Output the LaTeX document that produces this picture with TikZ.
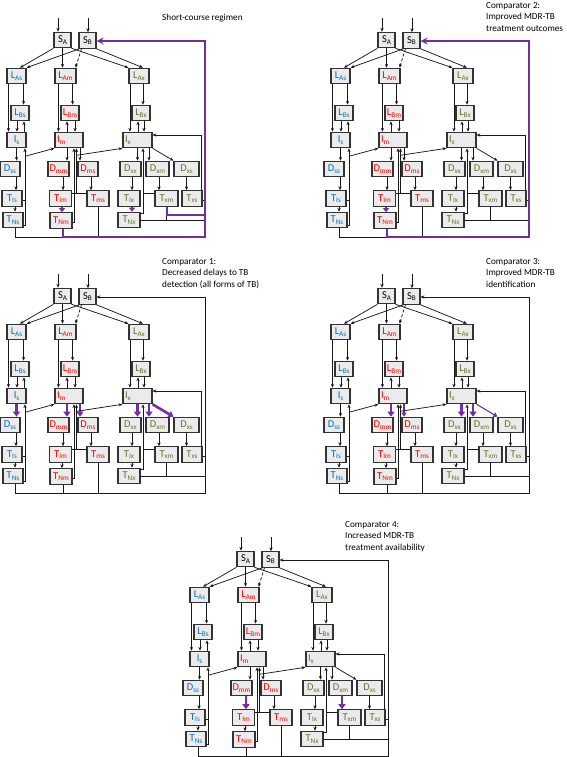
\documentclass[tikz,border=0pt]{standalone}
\usepackage{fontspec}
\setmainfont{Carlito}
\usetikzlibrary{arrows.meta}
\definecolor{sblue}{RGB}{0,112,192}
\definecolor{mred}{RGB}{255,0,0}
\definecolor{xgreen}{RGB}{95,120,45}
\definecolor{tbpurple}{RGB}{112,48,160}
\newcommand\idx[1]{\raisebox{-1.6pt}{\fontsize{7.2}{7.2}\selectfont #1}}
\tikzset{
  >={Stealth[length=3.8pt,width=3.2pt]},
  cell/.style={draw=black!80,line width=1.1pt,fill=gray!16,minimum width=#1,
    minimum height=15.5,inner sep=1pt,font=\fontsize{10.5}{10.5}\selectfont},
  wide/.style={text width=#1,align=left},
  colS/.style={text=sblue},
  colM/.style={text=mred},
  colX/.style={text=xgreen},
  heading/.style={anchor=north west,inner sep=0pt,align=left,font=\fontsize{9.2}{11.3}\selectfont},
  wire/.style={draw=black!90,line width=0.75pt},
  link/.style={wire,->},
  hlbig/.style={draw=tbpurple,line width=2.6pt,-{Triangle[length=5pt,width=7pt]}},
  hlthin/.style={draw=tbpurple,line width=1.1pt,-{Triangle[length=4pt,width=5pt]}},
  hlmid/.style={draw=tbpurple,line width=1.2pt,-{Triangle[length=4pt,width=6pt]}},
  hlcure/.style={draw=tbpurple,line width=2pt,-{Stealth[length=7pt,width=7pt]}},
  hlrail/.style={draw=tbpurple,line width=2pt},
  % flows that a panel may highlight
  detS/.style={link}, detMM/.style={link}, detMS/.style={link},
  detXX/.style={link}, detXM/.style={link}, detXS/.style={link},
  trtMM/.style={link}, trtXM/.style={link},
  lossM/.style={link}, lossX/.style={link},
  cureM/.style={link},
}
\newcommand\tbmodel{%
  % compartments
  \node[cell=17] (SA) at (62.5,40) {S\idx{A}};
  \node[cell=17] (SB) at (87.5,40.5) {S\idx{B}};
  \node[cell=19,colS] (LAs) at (16.5,76) {L\idx{As}};
  \node[cell=21,colM] (LAm) at (65.5,76) {L\idx{Am}};
  \node[cell=20,colX] (LAx) at (139,76) {L\idx{Ax}};
  \node[cell=18,colS] (LBs) at (20,113) {L\idx{Bs}};
  \node[cell=18,colM] (LBm) at (70,113) {L\idx{Bm}};
  \node[cell=18,colX] (LBx) at (141,113) {L\idx{Bx}};
  \node[cell=19,colS] (Is) at (16.5,140) {I\idx{s}};
  \node[cell=28,colM,wide=24] (Im) at (69,140) {I\idx{m}};
  \node[cell=29,colX,wide=25] (Ix) at (137.5,140) {I\idx{x}};
  \node[cell=20,colS] (Dss) at (10,169) {D\idx{ss}};
  \node[cell=21,colM] (Dmm) at (58.5,169) {D\idx{mm}};
  \node[cell=20,colM] (Dms) at (88,169) {D\idx{ms}};
  \node[cell=21,colX] (Dxx) at (130.5,169) {D\idx{xx}};
  \node[cell=23,colX] (Dxm) at (157.5,169) {D\idx{xm}};
  \node[cell=25,colX] (Dxs) at (186.5,169) {D\idx{xs}};
  \node[cell=20,colS] (TIs) at (12,198.5) {T\idx{Is}};
  \node[cell=22,colM] (TIm) at (60.5,198.5) {T\idx{Im}};
  \node[cell=22,colM] (Tms) at (98,198.5) {T\idx{ms}};
  \node[cell=22,colX] (TIx) at (129,198.5) {T\idx{Ix}};
  \node[cell=23,colX] (Txm) at (166.5,198.5) {T\idx{xm}};
  \node[cell=20,colX] (Txs) at (192,198.5) {T\idx{xs}};
  \node[cell=20,colS] (TNs) at (13,220) {T\idx{Ns}};
  \node[cell=22,colM] (TNm) at (61,220.5) {T\idx{Nm}};
  \node[cell=22,colX] (TNx) at (129,220) {T\idx{Nx}};
  % helper points
  \coordinate (inA) at (58,18);
  \coordinate (inB) at (88,18);
  \coordinate (rtop) at (205,41);
  \coordinate (rbot) at (205,237);
  \coordinate (sret) at ([xshift=8.5]Is.south);
  \coordinate (mret) at ([xshift=5]Im.south);
  \coordinate (mrel) at ([xshift=7.5]Im.south);
  \coordinate (xret) at ([xshift=5.5]Ix.south);
  % inflow and infection
  \draw[link] (inA) -- (inA |- SA.north);
  \draw[link] (inB) -- (inB |- SB.north);
  \draw[link] (SA.south west) -- ([xshift=3.5]LAs.north);
  \draw[link] ([xshift=1]SB.south west) -- (LAs.north east);
  \draw[link] (SA.south) -- (SA.south |- LAm.north);
  \draw[link,densely dashed] ([xshift=3]SB.south west) -- ([xshift=-1]LAm.north east);
  \draw[link] (SA.south east) -- (LAx.north west);
  \draw[link] (SB.south east) -- ([xshift=4]LAx.north);
  % latency
  \draw[link] ([xshift=2]LAs.south west) -- ([xshift=2]LAs.south west |- Is.north);
  \draw[link] ([xshift=-3]LAs.south east) -- ([xshift=-3]LAs.south east |- LBs.north);
  \draw[link] ([xshift=-3]LBs.south) -- ([xshift=-3]LBs.south |- Is.north);
  \draw[link] ([xshift=7.5]Is.north) -- ([xshift=7.5]Is.north |- LBs.south);
  \draw[link] ([xshift=4]LAm.south west) -- ([xshift=4]LAm.south west |- Im.north);
  \draw[link] ([xshift=-4]LAm.south east) -- ([xshift=-4]LAm.south east |- LBm.north);
  \draw[link] ([xshift=5]LBm.south) -- ([xshift=5]LBm.south |- Im.north);
  \draw[link] ([xshift=-2]Im.north) -- ([xshift=-2]Im.north |- LBm.south);
  \draw[link] ([xshift=1.5]LAx.south west) -- ([xshift=1.5]LAx.south west |- Ix.north);
  \draw[link] ([xshift=4]LAx.south) -- ([xshift=4]LAx.south |- LBx.north);
  \draw[link] ([xshift=3]LBx.south) -- ([xshift=3]LBx.south |- Ix.north);
  \draw[link] ([xshift=0.5]Ix.north) -- ([xshift=0.5]Ix.north |- LBx.south);
  % detection
  \draw[detS] (Is.south) -- (Is.south |- Dss.north);
  \draw[detMM] ([xshift=-2]Im.south) -- ([xshift=-2]Im.south |- Dmm.north);
  \draw[detMS] ([xshift=11]Im.south) -- ([xshift=11]Im.south |- Dms.north);
  \draw[detXX] (Ix.south) -- (Ix.south |- Dxx.north);
  \draw[detXM] ([xshift=11.5]Ix.south) -- ([xshift=11.5]Ix.south |- Dxm.north);
  \draw[detXS] (Ix.south east) -- (Dxs.north west);
  % treatment
  \draw[link] ([xshift=6]Dss.south) -- ([xshift=6]Dss.south |- TIs.north);
  \draw[trtMM] ([xshift=4.5]Dmm.south) -- ([xshift=4.5]Dmm.south |- TIm.north);
  \draw[link] ([xshift=3]Dms.south) -- ([xshift=3]Dms.south |- Tms.north);
  \draw[link] ([xshift=1.5]Dxx.south) -- ([xshift=1.5]Dxx.south |- TIx.north);
  \draw[trtXM] ([xshift=1.5]Dxm.south) -- ([xshift=1.5]Dxm.south |- Txm.north);
  \draw[link] (Dxs.south) -- (Dxs.south |- Txs.north);
  \draw[link] ([xshift=3]TIs.south) -- ([xshift=3]TIs.south |- TNs.north);
  \draw[lossM] ([xshift=1.5]TIm.south) -- ([xshift=1.5]TIm.south |- TNm.north);
  \draw[lossX] ([xshift=3]TIx.south) -- ([xshift=3]TIx.south |- TNx.north);
  % relapse and acquired resistance
  \draw[link] ([yshift=-5]TNs.east) -| (sret);
  \draw[wire] ([yshift=-1.5]TIs.east) -- ([yshift=-1.5]TIs.east -| sret);
  \draw[link] ([yshift=-8]sret) -- (Im.south west);
  \draw[link] ([yshift=-1.5]TNm.east) -| (mret);
  \draw[link] ([yshift=5.5]TIm.east) -| (mrel);
  \draw[wire] ([yshift=5.5]TIm.east) -- ([yshift=5.5]Tms.west);
  \draw[link] ([yshift=-7]mrel) -- (Ix.south west);
  \draw[link] ([yshift=7]TNx.east) -| (xret);
  \draw[wire] ([yshift=5.5]Txm.west) -- ([yshift=5.5]Txm.west -| xret);
  \draw[link] ([xshift=-1]Txs.north east) |- ([yshift=5]Ix.east);
  % recovery back to S_B
  \draw[wire] ([xshift=2]TNs.south) |- ([xshift=2]TNm.south |- rbot);
  \draw[wire] (Tms.south) -- (Tms.south |- rbot);
  \draw[wire] (Txm.south) -- (Txm.south |- TNx.east);
  \draw[wire] (TNx.east) -- (TNx.east -| rbot);
  \draw[wire] ([yshift=-1.5]Txs.east) -- ([yshift=-1.5]Txs.east -| rbot);
  \draw[cureM] ([xshift=2]TNm.south) |- (rbot) -- (rtop) -- (SB.east |- rtop);
}
\begin{document}
\begin{tikzpicture}[x=1pt,y=-1pt]
  \useasboundingbox (0,0) rectangle (567,757);
  % short-course regimen
  \begin{scope}[name prefix=sc-,lossM/.style={hlmid},lossX/.style={hlmid},cureM/.style={hlcure}]
    \tbmodel
    \draw[hlrail] ([xshift=0.5]Txm.south) |- ([yshift=-7.75]Txm.south -| rbot);
    \node[heading] (title) at (162,14) {Short-course regimen};
  \end{scope}
  % comparator 2
  \begin{scope}[shift={(324,0)},name prefix=c2-,lossM/.style={hlmid},cureM/.style={hlcure}]
    \tbmodel
    \node[heading] (title) at (162,2.5) {Comparator 2:\\Improved MDR-TB\\treatment outcomes};
  \end{scope}
  % comparator 1
  \begin{scope}[shift={(0,256)},name prefix=c1-,detS/.style={hlbig},detMM/.style={hlbig},
      detMS/.style={hlbig},detXX/.style={hlbig},detXM/.style={hlbig},detXS/.style={hlbig}]
    \tbmodel
    \node[heading] (title) at (162,2.5) {Comparator 1:\\Decreased delays to TB\\detection (all forms of TB)};
  \end{scope}
  % comparator 3
  \begin{scope}[shift={(324,256)},name prefix=c3-,detMM/.style={hlbig},detMS/.style={hlthin},
      detXX/.style={hlbig},detXM/.style={hlbig},detXS/.style={hlthin}]
    \tbmodel
    \node[heading] (title) at (162,2.5) {Comparator 3:\\Improved MDR-TB\\identification};
  \end{scope}
  % comparator 4
  \begin{scope}[shift={(183,519)},name prefix=c4-,trtMM/.style={hlbig},trtXM/.style={hlbig}]
    \tbmodel
    \node[heading] (title) at (162,2.5) {Comparator 4:\\Increased MDR-TB\\treatment availability};
  \end{scope}
\end{tikzpicture}
\end{document}
